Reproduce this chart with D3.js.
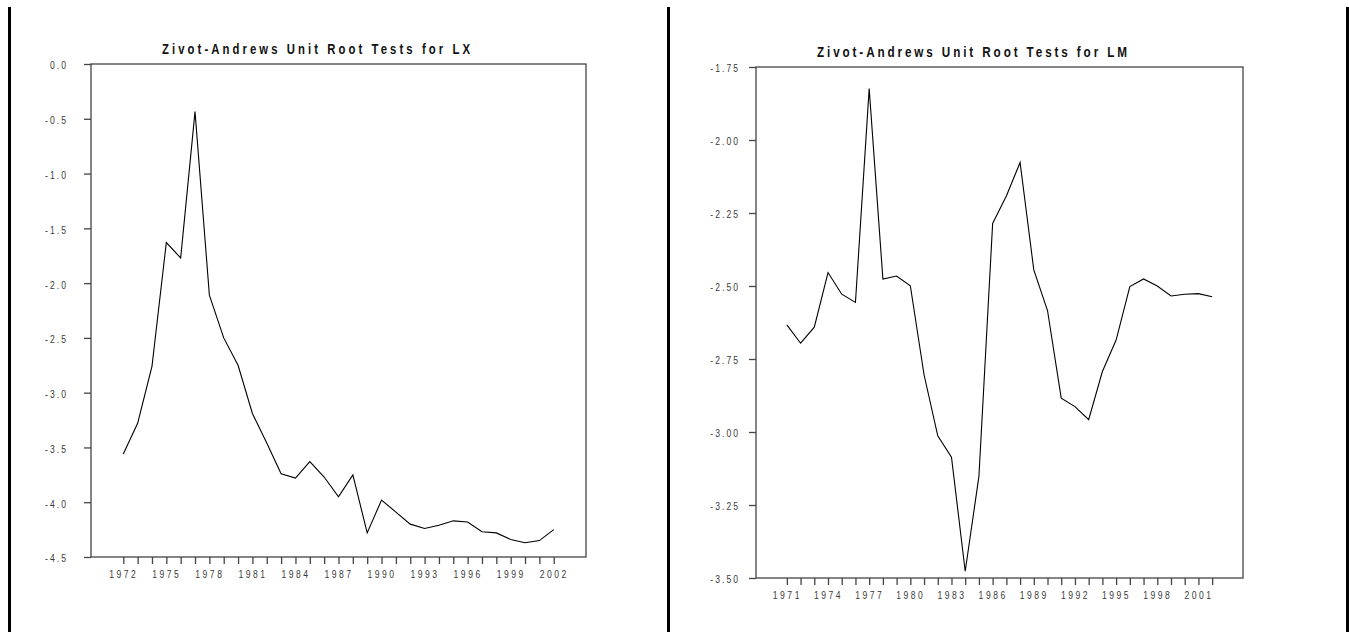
<!DOCTYPE html>
<html><head><meta charset="utf-8">
<script src="https://cdn.jsdelivr.net/npm/d3@7"></script>
<style>
body{margin:0;background:#fff}
svg{display:block}
.lbl{font-family:'Liberation Sans',Arial,sans-serif;}
</style>
</head><body>
<svg id="c" width="1349" height="632"></svg>
<script>
// ---- data ----
const lxYears = [1972,1973,1974,1975,1976,1977,1978,1979,1980,1981,1982,1983,1984,1985,1986,1987,1988,1989,1990,1991,1992,1993,1994,1995,1996,1997,1998,1999,2000,2001,2002];
const lxValues = [-3.56,-3.28,-2.76,-1.63,-1.77,-0.435,-2.11,-2.50,-2.75,-3.19,-3.46,-3.74,-3.78,-3.63,-3.77,-3.95,-3.75,-4.28,-3.98,-4.09,-4.20,-4.24,-4.21,-4.17,-4.18,-4.27,-4.28,-4.34,-4.37,-4.35,-4.25];
const lxYTicks = [0,-0.5,-1.0,-1.5,-2.0,-2.5,-3.0,-3.5,-4.0,-4.5];
const lxXLabels = [1972,1975,1978,1981,1984,1987,1990,1993,1996,1999,2002];
const lxTitle = "Zivot-Andrews Unit Root Tests for LX";

const lmYears = [1971,1972,1973,1974,1975,1976,1977,1978,1979,1980,1981,1982,1983,1984,1985,1986,1987,1988,1989,1990,1991,1992,1993,1994,1995,1996,1997,1998,1999,2000,2001,2002];
const lmValues = [-2.633,-2.696,-2.641,-2.454,-2.528,-2.556,-1.824,-2.476,-2.466,-2.499,-2.804,-3.013,-3.086,-3.477,-3.152,-2.286,-2.192,-2.077,-2.445,-2.584,-2.884,-2.913,-2.958,-2.793,-2.685,-2.502,-2.476,-2.500,-2.534,-2.528,-2.526,-2.537];
const lmYTicks = [-1.75,-2.00,-2.25,-2.50,-2.75,-3.00,-3.25,-3.50];
const lmXLabels = [1971,1974,1977,1980,1983,1986,1989,1992,1995,1998,2001];
const lmTitle = "Zivot-Andrews Unit Root Tests for LM";

// ---- layout ----
const svg = d3.select("#c");
const ink = "#444";
const S = 0.78; // horizontal condensation of glyphs (narrow face look)

// vertical frame lines
[[8,11],[667,670],[1346,1349]].forEach(([a,b])=>{
  svg.append("rect").attr("x",a).attr("y",7).attr("width",b-a).attr("height",632-7).attr("fill","#000");
});

function panel(o){
  const x = d3.scaleLinear().domain(o.xDomain).range([o.x0,o.x1]);
  const y = d3.scaleLinear().domain(o.yDomain).range([o.y1,o.y0]);
  const g = svg.append("g");
  const fmt = d3.format(o.yFmt);

  // box
  g.append("rect").attr("x",o.x0).attr("y",o.y0).attr("width",o.x1-o.x0).attr("height",o.y1-o.y0)
    .attr("fill","none").attr("stroke",ink).attr("stroke-width",1.3);

  // y axis
  const ya = g.append("g").attr("transform",`translate(${o.x0},0)`)
    .call(d3.axisLeft(y).tickValues(o.yTicks).tickSize(7).tickPadding(o.yPad)
      .tickFormat(d => fmt(d).replace("\u2212","-")));
  ya.select(".domain").remove();
  ya.selectAll("line").attr("stroke",ink).attr("stroke-width",1.3);
  ya.selectAll("text").attr("class","lbl").attr("font-size",11).attr("fill","#3a3a3a")
    .attr("letter-spacing",2.6).attr("dy","0.45em").attr("font-family",null)
    .attr("x",-(7+o.yPad)/S).attr("transform",`scale(${S},1)`);

  // x axis
  const xa = g.append("g").attr("transform",`translate(0,${o.y1})`)
    .call(d3.axisBottom(x).tickValues(o.years).tickSize(7).tickPadding(6)
      .tickFormat(d => o.xLabels.includes(d) ? String(d) : ""));
  xa.select(".domain").remove();
  xa.selectAll("line").attr("stroke",ink).attr("stroke-width",1.3);
  xa.selectAll("text").attr("class","lbl").attr("font-size",11).attr("fill","#3a3a3a")
    .attr("letter-spacing",3.2).attr("font-family",null)
    .attr("transform",`scale(${S},1)`);

  // line
  const line = d3.line().x((d,i)=>x(o.years[i])).y(d=>y(d));
  g.append("path").datum(o.values).attr("d",line).attr("fill","none")
    .attr("stroke","#000").attr("stroke-width",1.1).attr("stroke-linejoin","miter");

  // title
  g.append("text").attr("class","lbl").attr("x",o.tx/S).attr("y",o.ty)
    .attr("transform",`scale(${S},1)`)
    .attr("font-size",o.tSize).attr("font-weight","bold").attr("fill","#111")
    .attr("textLength",o.tLen/S).attr("lengthAdjust","spacing")
    .text(o.title);
}

panel({
  x0:91, x1:586, y0:64, y1:557,
  xDomain:[1969.75,2004.25], yDomain:[-4.5,0],
  years:lxYears, values:lxValues, yTicks:lxYTicks, xLabels:lxXLabels,
  yFmt:".1f", yPad:16, title:lxTitle, tx:162, ty:54, tLen:308, tSize:14.5
});
panel({
  x0:756, x1:1243, y0:67, y1:578,
  xDomain:[1968.75,2004.25], yDomain:[-3.5,-1.75],
  years:lmYears, values:lmValues, yTicks:lmYTicks, xLabels:lmXLabels,
  yFmt:".2f", yPad:9, title:lmTitle, tx:817, ty:57, tLen:310, tSize:15
});
</script>
</body></html>
